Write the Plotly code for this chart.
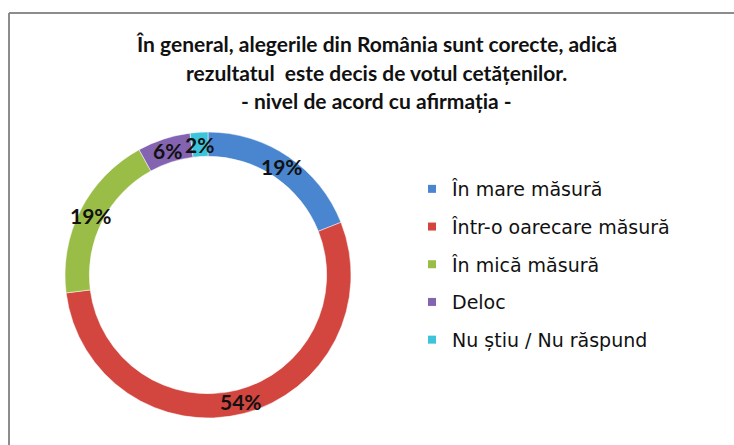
import math
import plotly.graph_objects as go

# answer categories, shares (%) and slice colours
labels = ["În mare măsură", "Într-o oarecare măsură", "În mică măsură", "Deloc", "Nu știu / Nu răspund"]
values = [19, 54, 19, 6, 2]
colors = ["#4A86CF", "#D2463F", "#9ABD47", "#8463B0", "#3DC4DA"]

title_lines = [
    "În general, alegerile din România sunt corecte, adică",
    "rezultatul  este decis de votul cetățenilor.",
    "- nivel de acord cu afirmația -",
]

W, H = 734, 445
HOLE = 0.83
dom_x = [65 / W, 351 / W]
dom_y = [1 - 418 / H, 1 - 132 / H]

fig = go.Figure()

fig.add_trace(go.Pie(
    labels=labels,
    values=values,
    sort=False,
    direction="clockwise",
    rotation=0,
    hole=HOLE,
    marker=dict(colors=colors, line=dict(color="white", width=0.5)),
    textinfo="none",
    domain=dict(x=dom_x, y=dom_y),
    showlegend=False,
))

# percentage labels centred on the ring at each slice's mid angle
cx = (dom_x[0] + dom_x[1]) / 2 * W
cy = (dom_y[0] + dom_y[1]) / 2 * H
radius = min((dom_x[1] - dom_x[0]) * W, (dom_y[1] - dom_y[0]) * H) / 2
r_mid = radius * (1 + HOLE) / 2
total = sum(values)
cum = 0
for v in values:
    ang = math.radians((cum + v / 2) / total * 360)
    cum += v
    fig.add_annotation(
        text=f"{v}%", xref="paper", yref="paper", showarrow=False,
        x=(cx + r_mid * math.sin(ang)) / W, y=(cy + r_mid * math.cos(ang)) / H,
        xanchor="center", yanchor="middle",
        font=dict(family="Lato", size=21, color="#111111", weight="bold"),
    )

# legend entries (one group each so the spacing can be opened up)
for lab, col in zip(labels, colors):
    fig.add_trace(go.Scatter(
        x=[None], y=[None], mode="markers", name=lab, legendgroup=lab,
        marker=dict(symbol="square", size=8, color=col),
    ))

for i, line in enumerate(title_lines):
    fig.add_annotation(
        text=line, x=376 / W, y=1 - [43, 72, 100][i] / H,
        xref="paper", yref="paper", showarrow=False,
        xanchor="center", yanchor="middle",
        font=dict(family="Lato", size=21, color="#111111", weight="bold"),
    )

# chart frame (left and top edges)
fig.add_shape(type="line", xref="paper", yref="paper",
              x0=9 / W, x1=9 / W, y0=0, y1=1 - 13 / H,
              line=dict(color="#8c8c8c", width=2))
fig.add_shape(type="line", xref="paper", yref="paper",
              x0=9 / W, x1=1, y0=1 - 13 / H, y1=1 - 13 / H,
              line=dict(color="#8c8c8c", width=2))

fig.update_layout(
    width=W, height=H,
    margin=dict(l=0, r=0, t=0, b=0),
    paper_bgcolor="white",
    plot_bgcolor="white",
    xaxis=dict(visible=False),
    yaxis=dict(visible=False),
    legend=dict(
        x=412 / W, y=1 - 170 / H, xanchor="left", yanchor="top",
        font=dict(family="DejaVu Sans", size=19, color="#111111"),
        tracegroupgap=10,
        bgcolor="rgba(0,0,0,0)",
    ),
)

# drop the page's default body margin so the figure sits at the window origin
fig.write_html("out.html", config={"displayModeBar": False},
               post_script="document.body.style.margin='0';")
